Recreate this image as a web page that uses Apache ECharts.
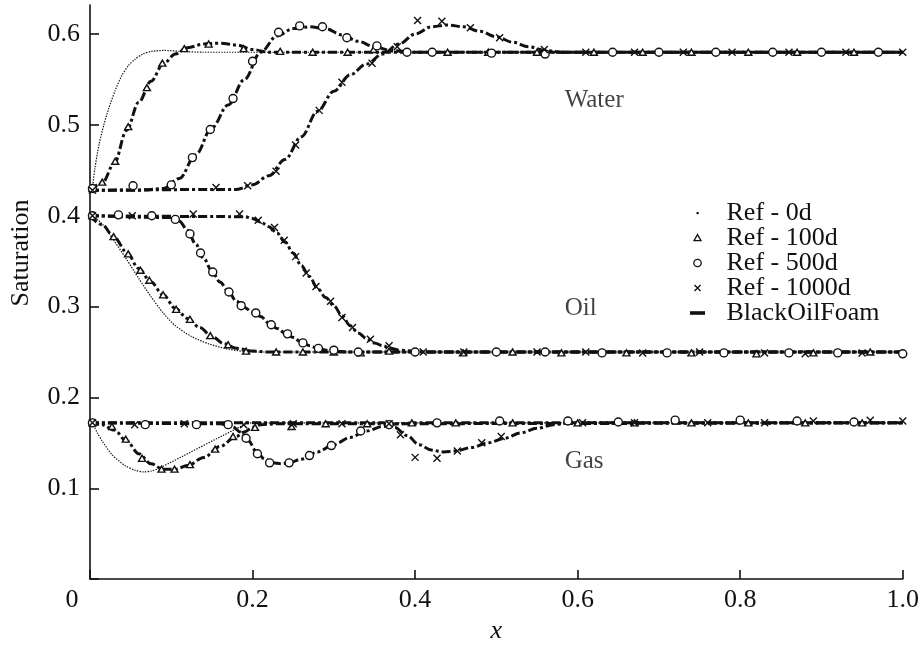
<!DOCTYPE html>
<html>
<head>
<meta charset="utf-8">
<script src="https://cdn.jsdelivr.net/npm/echarts@6/dist/echarts.min.js"></script>
<style>
html,body{margin:0;padding:0;background:#fff;}
#chart{width:922px;height:649px;}
</style>
</head>
<body>
<div id="chart"></div>
<script>
// ---------- axis ticks ----------
var xTicks = [0, 0.2, 0.4, 0.6, 0.8, 1.0];
var yTicks = [0.1, 0.2, 0.3, 0.4, 0.5, 0.6];

// ---------- BlackOilFoam simulation curves [x, saturation] ----------
var waterSim100 = [[0,0.428],[0.015,0.436],[0.03,0.458],[0.045,0.494],[0.06,0.525],[0.075,0.548],[0.09,0.567],[0.105,0.578],[0.12,0.585],[0.14,0.589],[0.16,0.590],[0.18,0.588],[0.2,0.583],[0.22,0.580],[1.0,0.580]];
var waterSim500 = [[0,0.428],[0.06,0.428],[0.09,0.430],[0.11,0.441],[0.13,0.467],[0.15,0.497],[0.17,0.522],[0.19,0.550],[0.21,0.580],[0.23,0.598],[0.25,0.606],[0.27,0.608],[0.29,0.606],[0.31,0.599],[0.33,0.592],[0.35,0.586],[0.37,0.582],[0.40,0.580],[1.0,0.580]];
var waterSim1000 = [[0,0.428],[0.18,0.429],[0.2,0.434],[0.22,0.444],[0.24,0.462],[0.26,0.487],[0.28,0.515],[0.30,0.537],[0.32,0.555],[0.34,0.567],[0.36,0.578],[0.38,0.589],[0.40,0.600],[0.42,0.608],[0.44,0.610],[0.46,0.608],[0.48,0.603],[0.50,0.597],[0.52,0.591],[0.54,0.586],[0.56,0.582],[0.58,0.580],[1.0,0.580]];
var oilSim100 = [[0,0.400],[0.015,0.390],[0.03,0.376],[0.045,0.360],[0.06,0.342],[0.075,0.327],[0.09,0.313],[0.105,0.298],[0.12,0.287],[0.135,0.277],[0.15,0.267],[0.165,0.259],[0.18,0.254],[0.2,0.251],[0.22,0.250],[1.0,0.250]];
var oilSim500 = [[0,0.400],[0.10,0.398],[0.11,0.394],[0.12,0.384],[0.13,0.369],[0.14,0.353],[0.15,0.339],[0.16,0.327],[0.17,0.317],[0.18,0.306],[0.19,0.299],[0.2,0.294],[0.21,0.289],[0.22,0.282],[0.23,0.276],[0.24,0.271],[0.25,0.266],[0.26,0.261],[0.27,0.257],[0.28,0.254],[0.29,0.252],[0.30,0.251],[0.32,0.250],[1.0,0.250]];
var oilSim1000 = [[0,0.400],[0.19,0.399],[0.2,0.397],[0.21,0.393],[0.22,0.388],[0.23,0.381],[0.24,0.371],[0.25,0.359],[0.26,0.345],[0.27,0.333],[0.28,0.320],[0.29,0.310],[0.30,0.301],[0.31,0.290],[0.32,0.279],[0.33,0.271],[0.34,0.265],[0.35,0.260],[0.36,0.257],[0.37,0.254],[0.38,0.252],[0.40,0.251],[0.42,0.250],[1.0,0.250]];
var gasSim100 = [[0,0.172],[0.015,0.170],[0.03,0.164],[0.045,0.152],[0.06,0.138],[0.075,0.127],[0.09,0.121],[0.105,0.121],[0.12,0.125],[0.14,0.134],[0.16,0.146],[0.18,0.157],[0.19,0.162],[0.2,0.167],[0.21,0.170],[0.23,0.171],[1.0,0.172]];
var gasSim500 = [[0,0.172],[0.16,0.171],[0.175,0.168],[0.185,0.162],[0.195,0.152],[0.205,0.140],[0.215,0.132],[0.225,0.128],[0.235,0.127],[0.245,0.128],[0.26,0.132],[0.28,0.140],[0.30,0.148],[0.32,0.156],[0.34,0.163],[0.36,0.168],[0.38,0.171],[0.40,0.172],[1.0,0.172]];
var gasSim1000 = [[0,0.172],[0.36,0.172],[0.375,0.167],[0.39,0.158],[0.405,0.148],[0.42,0.142],[0.435,0.140],[0.45,0.141],[0.47,0.145],[0.49,0.150],[0.51,0.155],[0.53,0.161],[0.55,0.166],[0.57,0.170],[0.59,0.172],[1.0,0.172]];

// ---------- Reference 0d curves (dotted) ----------
var waterRef0 = [[0.003,0.430],[0.006,0.452],[0.011,0.478],[0.017,0.500],[0.023,0.518],[0.031,0.538],[0.039,0.554],[0.047,0.565],[0.055,0.572],[0.065,0.578],[0.076,0.581],[0.092,0.582],[0.11,0.581],[0.14,0.580],[1.0,0.580]];
var oilRef0 = [[0.003,0.400],[0.015,0.391],[0.03,0.372],[0.045,0.352],[0.06,0.331],[0.075,0.311],[0.09,0.293],[0.105,0.279],[0.125,0.267],[0.146,0.259],[0.166,0.254],[0.186,0.251],[0.21,0.250],[0.25,0.250],[1.0,0.250]];
var gasRef0 = [[0.003,0.172],[0.009,0.161],[0.015,0.152],[0.027,0.137],[0.043,0.125],[0.055,0.120],[0.066,0.118],[0.076,0.119],[0.085,0.122],[0.19,0.170],[0.2,0.172],[0.23,0.172],[1.0,0.172]];

// ---------- Reference markers ----------
var waterRef100 = [[0.003,0.430],[0.015,0.437],[0.031,0.460],[0.047,0.498],[0.070,0.541],[0.089,0.568],[0.116,0.584],[0.146,0.589],[0.189,0.584],[0.234,0.581],[0.274,0.580],[0.317,0.580],[0.349,0.583],[0.44,0.580],[0.49,0.580],[0.55,0.580],[0.62,0.580],[0.68,0.580],[0.74,0.580],[0.81,0.580],[0.87,0.580],[0.94,0.580]];
var waterRef500 = [[0.003,0.430],[0.053,0.433],[0.100,0.434],[0.126,0.464],[0.148,0.495],[0.176,0.529],[0.200,0.570],[0.232,0.602],[0.258,0.609],[0.286,0.608],[0.316,0.596],[0.353,0.587],[0.39,0.580],[0.421,0.580],[0.494,0.579],[0.56,0.578],[0.643,0.580],[0.70,0.580],[0.77,0.580],[0.84,0.580],[0.90,0.580],[0.97,0.580]];
var waterRef1000 = [[0.003,0.428],[0.155,0.431],[0.194,0.433],[0.229,0.449],[0.253,0.478],[0.282,0.516],[0.310,0.547],[0.347,0.568],[0.378,0.586],[0.403,0.615],[0.433,0.614],[0.468,0.607],[0.504,0.596],[0.559,0.583],[0.61,0.580],[0.67,0.580],[0.73,0.580],[0.79,0.580],[0.86,0.580],[0.93,0.580],[1.0,0.580]];
var oilRef100 = [[0.003,0.400],[0.029,0.377],[0.047,0.358],[0.062,0.340],[0.073,0.329],[0.090,0.313],[0.106,0.297],[0.123,0.286],[0.148,0.268],[0.170,0.258],[0.192,0.251],[0.229,0.250],[0.262,0.250],[0.30,0.250],[0.333,0.249],[0.368,0.251],[0.459,0.249],[0.52,0.250],[0.58,0.249],[0.66,0.249],[0.74,0.249],[0.82,0.248],[0.89,0.249],[0.96,0.250]];
var oilRef500 = [[0.003,0.400],[0.035,0.401],[0.076,0.400],[0.105,0.396],[0.123,0.380],[0.136,0.359],[0.151,0.338],[0.171,0.316],[0.186,0.301],[0.204,0.293],[0.223,0.280],[0.243,0.270],[0.262,0.260],[0.281,0.254],[0.30,0.252],[0.33,0.250],[0.40,0.250],[0.50,0.250],[0.56,0.250],[0.63,0.249],[0.71,0.249],[0.78,0.249],[0.86,0.249],[0.92,0.249],[1.0,0.248]];
var oilRef1000 = [[0.003,0.400],[0.052,0.400],[0.127,0.402],[0.184,0.402],[0.207,0.395],[0.227,0.387],[0.239,0.373],[0.253,0.355],[0.266,0.337],[0.278,0.322],[0.296,0.306],[0.310,0.288],[0.323,0.277],[0.345,0.264],[0.368,0.257],[0.41,0.250],[0.46,0.250],[0.55,0.250],[0.61,0.250],[0.68,0.249],[0.75,0.250],[0.83,0.249],[0.88,0.248],[0.95,0.249]];
var gasRef100 = [[0.003,0.172],[0.027,0.168],[0.044,0.154],[0.064,0.133],[0.088,0.121],[0.104,0.121],[0.123,0.126],[0.154,0.143],[0.176,0.157],[0.203,0.167],[0.248,0.168],[0.29,0.171],[0.341,0.171],[0.396,0.172],[0.45,0.172],[0.52,0.172],[0.60,0.172],[0.67,0.172],[0.74,0.172],[0.81,0.172],[0.88,0.172],[0.95,0.172]];
var gasRef500 = [[0.003,0.172],[0.068,0.170],[0.131,0.170],[0.170,0.170],[0.192,0.155],[0.206,0.138],[0.221,0.128],[0.245,0.128],[0.270,0.136],[0.297,0.147],[0.333,0.163],[0.368,0.170],[0.427,0.172],[0.504,0.174],[0.588,0.174],[0.65,0.173],[0.72,0.175],[0.80,0.175],[0.87,0.174],[0.94,0.173]];
var gasRef1000 = [[0.003,0.172],[0.055,0.170],[0.116,0.171],[0.189,0.170],[0.25,0.171],[0.31,0.171],[0.368,0.171],[0.382,0.159],[0.400,0.134],[0.427,0.133],[0.452,0.141],[0.482,0.150],[0.506,0.157],[0.606,0.172],[0.67,0.172],[0.76,0.172],[0.83,0.172],[0.89,0.174],[0.96,0.175],[1.0,0.174]];

// ---------- phase annotations ----------
var phaseLabels = [{name:'Water', value:[0.584, 0.527]}, {name:'Oil', value:[0.584, 0.298]}, {name:'Gas', value:[0.584, 0.130]}];

var legendNames = ['Ref - 0d', 'Ref - 100d', 'Ref - 500d', 'Ref - 1000d', 'BlackOilFoam'];

var INK = '#111111';
var FONT = 'Liberation Serif';
var xPath = 'path://M0,0L10,10M10,0L0,10';

function simLine(data) {
  return {
    name: 'BlackOilFoam', type: 'line', data: data, showSymbol: false, symbol: 'none',
    smooth: 0.35, smoothMonotone: 'x', z: 2, silent: true,
    lineStyle: {color: INK, width: 3, type: [9, 3, 3, 3]},
    itemStyle: {color: INK}
  };
}
function refLine(data) {
  return {
    name: 'Ref - 0d', type: 'line', data: data, showSymbol: false, symbol: 'none',
    smooth: 0.25, z: 1, silent: true,
    lineStyle: {color: INK, width: 1.2, type: [1.4, 1.3]},
    itemStyle: {color: INK}
  };
}
function refMarks(name, data, symbol, size) {
  return {
    name: name, type: 'scatter', data: data, symbol: symbol, symbolSize: size, z: 3, silent: true,
    itemStyle: {color: symbol === xPath ? 'none' : '#fff', borderColor: INK, borderWidth: 1.4, opacity: 1}
  };
}

var series = [
  refLine(waterRef0), refLine(oilRef0), refLine(gasRef0),
  simLine(waterSim100), simLine(waterSim500), simLine(waterSim1000),
  simLine(oilSim100), simLine(oilSim500), simLine(oilSim1000),
  simLine(gasSim100), simLine(gasSim500), simLine(gasSim1000),
  refMarks('Ref - 100d', waterRef100, 'triangle', [7, 6]),
  refMarks('Ref - 100d', oilRef100, 'triangle', [7, 6]),
  refMarks('Ref - 100d', gasRef100, 'triangle', [7, 6]),
  refMarks('Ref - 500d', waterRef500, 'circle', 8),
  refMarks('Ref - 500d', oilRef500, 'circle', 8),
  refMarks('Ref - 500d', gasRef500, 'circle', 8),
  refMarks('Ref - 1000d', waterRef1000, xPath, 7),
  refMarks('Ref - 1000d', oilRef1000, xPath, 7),
  refMarks('Ref - 1000d', gasRef1000, xPath, 7),
  {
    name: 'phases', type: 'scatter', data: phaseLabels, symbolSize: 0, silent: true, z: 4,
    label: {show: true, position: 'right', distance: 0, formatter: '{b}', color: INK,
            fontFamily: FONT, fontSize: 25, verticalAlign: 'middle'}
  }
];

// legend icons: 48x12 boxes (corner moves fix the box), glyph centred
var icDot = 'path://M0,0M48,12M23,5h2.2v2.2h-2.2z';
var icTri = 'path://M0,0M48,12M24,2.6L27.5,8.6L20.5,8.6Z';
var icCir = 'path://M0,0M48,12M27.7,6A3.7,3.7 0 1 1 20.3,6A3.7,3.7 0 1 1 27.7,6Z';
var icX = 'path://M0,0M48,12M21,3L27,9M27,3L21,9';
var icDash = 'path://M0,0M48,12M16.5,4.2h15v3.6h-15z';

var option = {
  animation: false,
  backgroundColor: '#fff',
  grid: {left: 88, right: 18, top: 5, bottom: 63, containLabel: false},
  legend: {
    orient: 'vertical', left: 671, top: 200, padding: 0, itemGap: -1,
    itemWidth: 48, itemHeight: 12, selectedMode: false,
    textStyle: {fontFamily: FONT, fontSize: 26, color: INK, lineHeight: 24, padding: [0, 0, 0, 0]},
    data: [
      {name: legendNames[0], icon: icDot, itemStyle: {color: INK, borderWidth: 0}},
      {name: legendNames[1], icon: icTri, itemStyle: {color: '#fff', borderColor: INK, borderWidth: 1.3}},
      {name: legendNames[2], icon: icCir, itemStyle: {color: '#fff', borderColor: INK, borderWidth: 1.3}},
      {name: legendNames[3], icon: icX, itemStyle: {color: 'none', borderColor: INK, borderWidth: 1.4}},
      {name: legendNames[4], icon: icDash, itemStyle: {color: INK, borderWidth: 0}}
    ]
  },
  xAxis: {
    type: 'value', min: 0, max: 1, interval: 0.2,
    name: 'x', nameLocation: 'middle', nameGap: 32,
    nameTextStyle: {fontFamily: FONT, fontSize: 26, fontStyle: 'italic', color: INK},
    axisLine: {show: true, lineStyle: {color: INK, width: 1.6}},
    axisTick: {show: true, inside: true, length: 9, lineStyle: {color: INK, width: 1.6}, customValues: xTicks},
    splitLine: {show: false},
    axisLabel: {
      fontFamily: FONT, fontSize: 26, color: INK, margin: 8, customValues: xTicks,
      formatter: function (v) { return v === 0 ? '{z|0}' : v.toFixed(1); },
      rich: {z: {fontFamily: FONT, fontSize: 26, color: INK, padding: [0, 36, 0, 0]}}
    }
  },
  yAxis: {
    type: 'value', min: 0, max: 0.632, interval: 0.1,
    name: 'Saturation', nameLocation: 'middle', nameGap: 56, nameRotate: 90,
    nameTextStyle: {fontFamily: FONT, fontSize: 26, color: INK, padding: [0, 0, 0, 78]},
    axisLine: {show: true, lineStyle: {color: INK, width: 1.6}},
    axisTick: {show: true, inside: true, length: 9, lineStyle: {color: INK, width: 1.6}, customValues: [0].concat(yTicks)},
    splitLine: {show: false},
    axisLabel: {
      fontFamily: FONT, fontSize: 26, color: INK, margin: 10, customValues: yTicks,
      formatter: function (v) { return v.toFixed(1); }
    }
  },
  series: series
};

var chart = echarts.init(document.getElementById('chart'), null, {renderer: 'canvas'});
chart.setOption(option);
</script>
</body>
</html>
